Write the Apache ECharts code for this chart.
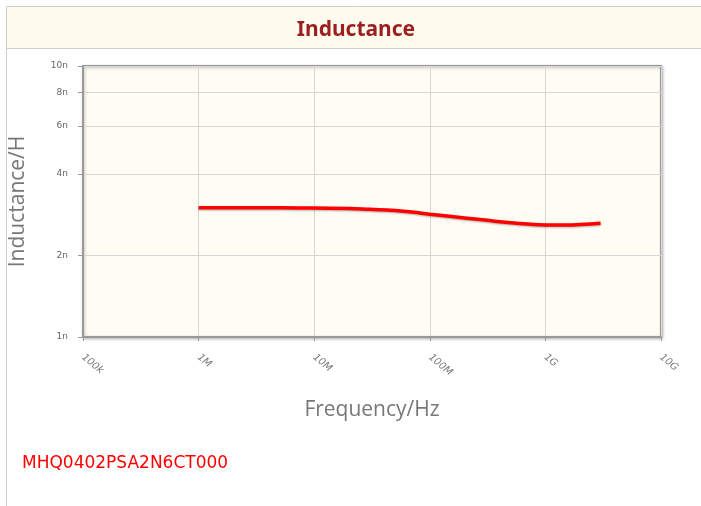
<!DOCTYPE html>
<html>
<head>
<meta charset="utf-8">
<script src="https://cdn.jsdelivr.net/npm/echarts@6/dist/echarts.min.js"></script>
<style>
  html, body { margin: 0; padding: 0; background: #ffffff; }
  #chart { width: 701px; height: 506px; }
</style>
</head>
<body>
<div id="chart"></div>
<script>
// 频率 (Hz)
var frequency = [1e6, 2e6, 5e6, 1e7, 2e7, 3e7, 5e7, 7e7, 1e8, 2e8, 3e8, 5e8, 7e8, 1e9, 1.5e9, 2e9, 3e9];
// 电感 (nH)
var inductance = [3.0, 3.0, 3.0, 2.99, 2.98, 2.96, 2.93, 2.89, 2.84, 2.75, 2.70, 2.64, 2.61, 2.59, 2.59, 2.60, 2.63];

// 刻度
var xTickValues = [1e5, 1e6, 1e7, 1e8, 1e9, 1e10];
var xTickLabels = ['100k', '1M', '10M', '100M', '1G', '10G'];
var yTickValues = [1, 2, 4, 6, 8, 10];
var yTickLabels = ['1n', '2n', '4n', '6n', '8n', '10n'];

var partNumber = 'MHQ0402PSA2N6CT000';

var chart = echarts.init(document.getElementById('chart'));

var option = {
    animation: false,
    backgroundColor: '#ffffff',
    title: {
        text: 'Inductance',
        left: 351,
        top: 15,
        textAlign: 'center',
        textStyle: {
            color: '#9c1f1f',
            fontFamily: 'Noto Sans',
            fontWeight: 'bold',
            fontSize: 21
        }
    },
    graphic: [
        {
            // 标题栏
            type: 'rect',
            z: -1,
            shape: { x: 6.5, y: 6.5, width: 700, height: 42 },
            style: { fill: '#fefaee', stroke: '#cfcfcf', lineWidth: 1 }
        },
        {
            // 左边框
            type: 'line',
            z: -1,
            shape: { x1: 6.5, y1: 48, x2: 6.5, y2: 506 },
            style: { stroke: '#cfcfcf', lineWidth: 1 }
        },
        {
            type: 'text',
            left: 22,
            top: 455,
            style: {
                text: partNumber,
                fill: '#ff0000',
                font: '17px "DejaVu Sans"'
            }
        }
    ],
    grid: {
        left: 82,
        top: 66,
        width: 579,
        height: 271,
        show: true,
        backgroundColor: '#fffcf3',
        borderColor: '#999999',
        borderWidth: 2,
        shadowColor: 'rgba(0,0,0,0.25)',
        shadowBlur: 3,
        shadowOffsetX: 1,
        shadowOffsetY: 1
    },
    xAxis: {
        type: 'log',
        logBase: 10,
        min: 1e5,
        max: 1e10,
        name: 'Frequency/Hz',
        nameLocation: 'middle',
        nameGap: 63,
        nameTextStyle: {
            color: '#777777',
            fontFamily: 'Open Sans',
            fontSize: 21
        },
        axisLine: { lineStyle: { color: '#999999', width: 2 } },
        axisTick: {
            customValues: xTickValues,
            length: 4,
            lineStyle: { color: '#999999' }
        },
        axisLabel: {
            customValues: xTickValues,
            rotate: -40,
            margin: 19,
            color: '#777777',
            fontFamily: 'DejaVu Sans',
            fontStyle: 'italic',
            fontSize: 10,
            formatter: function (value) {
                var idx = Math.round(Math.log10(value)) - 5;
                return xTickLabels[idx];
            }
        },
        splitLine: { show: true, lineStyle: { color: '#d6d6d6', width: 1 } }
    },
    yAxis: {
        type: 'log',
        logBase: 10,
        min: 1,
        max: 10,
        name: 'Inductance/H',
        nameLocation: 'middle',
        nameGap: 54,
        nameTextStyle: {
            color: '#777777',
            fontFamily: 'Open Sans',
            fontSize: 21
        },
        axisLine: { lineStyle: { color: '#999999', width: 2 } },
        axisTick: {
            customValues: yTickValues,
            length: 5,
            lineStyle: { color: '#999999' }
        },
        axisLabel: {
            customValues: yTickValues,
            margin: 15,
            color: '#666666',
            fontFamily: 'DejaVu Sans',
            fontSize: 9,
            formatter: function (value) {
                var idx = yTickValues.indexOf(Math.round(value));
                return yTickLabels[idx];
            }
        },
        splitLine: { show: true, lineStyle: { color: '#d6d6d6', width: 1 } }
    },
    series: [
        {
            name: 'Inductance',
            type: 'line',
            smooth: true,
            showSymbol: false,
            data: frequency.map(function (f, i) { return [f, inductance[i]]; }),
            lineStyle: {
                color: '#ff0000',
                width: 3.5,
                shadowColor: 'rgba(0,0,0,0.3)',
                shadowBlur: 2,
                shadowOffsetY: 1
            }
        }
    ]
};

chart.setOption(option);
</script>
</body>
</html>
